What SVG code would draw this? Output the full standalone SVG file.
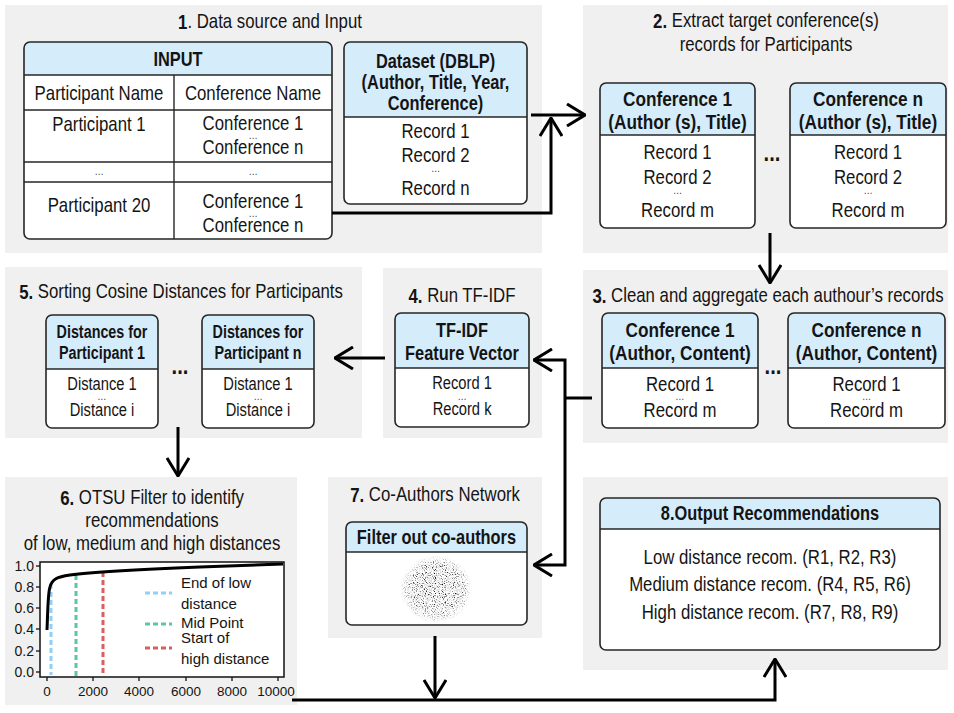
<svg xmlns="http://www.w3.org/2000/svg" width="954" height="713" viewBox="0 0 954 713">
<defs>
<style>
.panel{fill:#f0f0f0}
.body{fill:#fff}
.hd{fill:#d5ecfb}
.box{fill:none;stroke:#262626;stroke-width:1.6}
.sep{stroke:#262626;stroke-width:1.4}
text{font-family:'Liberation Sans Narrow','Liberation Sans',Arial,sans-serif;fill:#141414;text-anchor:middle;dominant-baseline:central;transform-box:fill-box;transform-origin:center;transform:scaleX(.84)}
.r{font-size:20px}
.b{font-size:20px;font-weight:bold;transform:scaleX(.82)}
.bl{font-size:21px;font-weight:bold;transform:scaleX(.82)}
.sm{font-size:17.5px}
.smb{font-size:17.5px;font-weight:bold;transform:scaleX(.82)}
.el{font-size:11px;fill:#333}
.gap{font-size:24px;font-weight:bold}
.ax{font-family:'Liberation Sans',Arial,sans-serif;font-size:13.5px;transform:none}
.axe{font-family:'Liberation Sans',Arial,sans-serif;font-size:14px;transform:none;text-anchor:end}
.lg{font-family:'Liberation Sans',Arial,sans-serif;font-size:15px;text-anchor:start;transform:none}
.wire{fill:none;stroke:#000;stroke-width:3}
.dash{fill:none;stroke-width:3;stroke-dasharray:5 3}
</style>
<marker id="arr" viewBox="0 0 20 24" refX="19" refY="12" markerWidth="20" markerHeight="24" markerUnits="userSpaceOnUse" orient="auto-start-reverse">
<path d="M1,1 L19,12 L1,23" fill="none" stroke="#000" stroke-width="3"/>
</marker>
<radialGradient id="cloud">
<stop offset="0" stop-color="#111" stop-opacity="1"/>
<stop offset="0.7" stop-color="#111" stop-opacity="0.9"/>
<stop offset="1" stop-color="#111" stop-opacity="0"/>
</radialGradient>
<filter id="speckle" x="-10%" y="-10%" width="120%" height="120%">
<feTurbulence type="fractalNoise" baseFrequency="0.9" numOctaves="1" seed="7" result="n"/>
<feColorMatrix in="n" type="matrix" values="0 0 0 0 0  0 0 0 0 0  0 0 0 0 0  1 0 0 0 0" result="a"/>
<feComponentTransfer in="a" result="t"><feFuncA type="discrete" tableValues="0 0 0 0 0 0.12 0.45 0.85 1 1"/></feComponentTransfer>
<feComposite in="t" in2="SourceAlpha" operator="in"/>
</filter>
</defs>

<!-- section backgrounds -->
<g id="panels">
<rect class="panel" x="5" y="5" width="537" height="248"/>
<rect class="panel" x="583" y="5" width="365" height="248"/>
<rect class="panel" x="583" y="270" width="365" height="173"/>
<rect class="panel" x="383" y="268" width="159" height="170"/>
<rect class="panel" x="5" y="267" width="357" height="171"/>
<rect class="panel" x="5" y="477" width="292" height="228"/>
<rect class="panel" x="328" y="477" width="214" height="161"/>
<rect class="panel" x="583" y="477" width="365" height="193"/>
</g>

<g id="titles">
<text class="r" x="270" y="21"><tspan font-weight="bold">1</tspan>. Data source and Input</text>
<text class="r" x="766" y="20"><tspan font-weight="bold">2.</tspan> Extract target conference(s)</text>
<text class="r" x="766" y="44">records for Participants</text>
<text class="r" x="768" y="295"><tspan font-weight="bold">3.</tspan> Clean and aggregate each authour’s records</text>
<text class="r" x="462" y="295"><tspan font-weight="bold">4.</tspan> Run TF-IDF</text>
<text class="r" x="181" y="291"><tspan font-weight="bold">5.</tspan> Sorting Cosine Distances for Participants</text>
<text class="r" x="152" y="497"><tspan font-weight="bold">6.</tspan> OTSU Filter to identify</text>
<text class="r" x="152" y="520">recommendations</text>
<text class="r" x="152" y="543">of low, medium and high distances</text>
<text class="r" x="435" y="494"><tspan font-weight="bold">7.</tspan> Co-Authors Network</text>
</g>

<!-- input table -->
<g id="input-table">
<rect class="body" x="24" y="42" width="308" height="197" rx="6"/>
<path class="hd" d="M24,75 V48 Q24,42 30,42 H326 Q332,42 332,48 V75 Z"/>
<line class="sep" x1="24" y1="75" x2="332" y2="75"/>
<line class="sep" x1="24" y1="110" x2="332" y2="110"/>
<line class="sep" x1="24" y1="162" x2="332" y2="162"/>
<line class="sep" x1="24" y1="182" x2="332" y2="182"/>
<line class="sep" x1="174" y1="75" x2="174" y2="239"/>
<rect class="box" x="24" y="42" width="308" height="197" rx="6"/>
<text class="b" x="178" y="59">INPUT</text>
<text class="r" x="99" y="93">Participant Name</text>
<text class="r" x="253" y="93">Conference Name</text>
<text class="r" x="99" y="124">Participant 1</text>
<text class="r" x="253" y="123">Conference 1</text>
<text class="el" x="253" y="135">…</text>
<text class="r" x="253" y="147">Conference n</text>
<text class="el" x="99" y="171">…</text>
<text class="el" x="253" y="171">…</text>
<text class="r" x="99" y="205">Participant 20</text>
<text class="r" x="253" y="201">Conference 1</text>
<text class="el" x="253" y="213">…</text>
<text class="r" x="253" y="225">Conference n</text>
</g>

<g id="dataset">
<rect class="body" x="344" y="42" width="183" height="162" rx="6"/>
<path class="hd" d="M344,117 V48 Q344,42 350,42 H521 Q527,42 527,48 V117 Z"/>
<line class="sep" x1="344" y1="117" x2="527" y2="117"/>
<rect class="box" x="344" y="42" width="183" height="162" rx="6"/>
<text class="b" x="435.5" y="61">Dataset (DBLP)</text>
<text class="b" x="435.5" y="82">(Author, Title, Year,</text>
<text class="b" x="435.5" y="103">Conference)</text>
<text class="r" x="435.5" y="131">Record 1</text>
<text class="r" x="435.5" y="155">Record 2</text>
<text class="el" x="435.5" y="168">…</text>
<text class="r" x="435.5" y="188">Record n</text>
</g>

<g id="extract-conf-1">
<rect class="body" x="600" y="83" width="155" height="145" rx="6"/>
<path class="hd" d="M600,135 V89 Q600,83 606,83 H749 Q755,83 755,89 V135 Z"/>
<line class="sep" x1="600" y1="135" x2="755" y2="135"/>
<rect class="box" x="600" y="83" width="155" height="145" rx="6"/>
<text class="bl" x="677.5" y="99">Conference 1</text>
<text class="bl" x="677.5" y="122">(Author (s), Title)</text>
<text class="r" x="677.5" y="152">Record 1</text>
<text class="r" x="677.5" y="177">Record 2</text>
<text class="el" x="677.5" y="190">…</text>
<text class="r" x="677.5" y="210">Record m</text>
</g>
<text class="gap" x="772" y="153">...</text>
<g id="extract-conf-n">
<rect class="body" x="790" y="83" width="156" height="145" rx="6"/>
<path class="hd" d="M790,135 V89 Q790,83 796,83 H940 Q946,83 946,89 V135 Z"/>
<line class="sep" x1="790" y1="135" x2="946" y2="135"/>
<rect class="box" x="790" y="83" width="156" height="145" rx="6"/>
<text class="bl" x="868" y="99">Conference n</text>
<text class="bl" x="868" y="122">(Author (s), Title)</text>
<text class="r" x="868" y="152">Record 1</text>
<text class="r" x="868" y="177">Record 2</text>
<text class="el" x="868" y="190">…</text>
<text class="r" x="868" y="210">Record m</text>
</g>

<g id="clean-conf-1">
<rect class="body" x="602" y="313" width="156" height="115" rx="6"/>
<path class="hd" d="M602,368 V319 Q602,313 608,313 H752 Q758,313 758,319 V368 Z"/>
<line class="sep" x1="602" y1="368" x2="758" y2="368"/>
<rect class="box" x="602" y="313" width="156" height="115" rx="6"/>
<text class="bl" x="680" y="330">Conference 1</text>
<text class="bl" x="680" y="353">(Author, Content)</text>
<text class="r" x="680" y="384">Record 1</text>
<text class="el" x="680" y="396">…</text>
<text class="r" x="680" y="410">Record m</text>
</g>
<text class="gap" x="773" y="366">...</text>
<g id="clean-conf-n">
<rect class="body" x="788" y="313" width="157" height="115" rx="6"/>
<path class="hd" d="M788,368 V319 Q788,313 794,313 H939 Q945,313 945,319 V368 Z"/>
<line class="sep" x1="788" y1="368" x2="945" y2="368"/>
<rect class="box" x="788" y="313" width="157" height="115" rx="6"/>
<text class="bl" x="866.5" y="330">Conference n</text>
<text class="bl" x="866.5" y="353">(Author, Content)</text>
<text class="r" x="866.5" y="384">Record 1</text>
<text class="el" x="866.5" y="396">…</text>
<text class="r" x="866.5" y="410">Record m</text>
</g>

<g id="tfidf">
<rect class="body" x="395" y="313" width="134" height="114" rx="6"/>
<path class="hd" d="M395,368 V319 Q395,313 401,313 H523 Q529,313 529,319 V368 Z"/>
<line class="sep" x1="395" y1="368" x2="529" y2="368"/>
<rect class="box" x="395" y="313" width="134" height="114" rx="6"/>
<text class="b" x="462" y="330">TF-IDF</text>
<text class="b" x="462" y="353">Feature Vector</text>
<text class="sm" x="462" y="383">Record 1</text>
<text class="el" x="462" y="396">…</text>
<text class="sm" x="462" y="409">Record k</text>
</g>

<g id="distances-1">
<rect class="body" x="46" y="315" width="112" height="113" rx="6"/>
<path class="hd" d="M46,369 V321 Q46,315 52,315 H152 Q158,315 158,321 V369 Z"/>
<line class="sep" x1="46" y1="369" x2="158" y2="369"/>
<rect class="box" x="46" y="315" width="112" height="113" rx="6"/>
<text class="smb" x="102" y="332">Distances for</text>
<text class="smb" x="102" y="353">Participant 1</text>
<text class="sm" x="102" y="384">Distance 1</text>
<text class="el" x="102" y="396">…</text>
<text class="sm" x="102" y="410">Distance i</text>
</g>
<text class="gap" x="180" y="366">...</text>
<g id="distances-n">
<rect class="body" x="202" y="315" width="112" height="113" rx="6"/>
<path class="hd" d="M202,369 V321 Q202,315 208,315 H308 Q314,315 314,321 V369 Z"/>
<line class="sep" x1="202" y1="369" x2="314" y2="369"/>
<rect class="box" x="202" y="315" width="112" height="113" rx="6"/>
<text class="smb" x="258" y="332">Distances for</text>
<text class="smb" x="258" y="353">Participant n</text>
<text class="sm" x="258" y="384">Distance 1</text>
<text class="el" x="258" y="396">…</text>
<text class="sm" x="258" y="410">Distance i</text>
</g>

<!-- OTSU chart -->
<g id="otsu-chart">
<rect x="40" y="562" width="244" height="115" fill="#fff" stroke="#111" stroke-width="1.5"/>
<g stroke="#111" stroke-width="1.3">
<line x1="36" y1="566" x2="40" y2="566"/><line x1="36" y1="587" x2="40" y2="587"/>
<line x1="36" y1="608" x2="40" y2="608"/><line x1="36" y1="629" x2="40" y2="629"/>
<line x1="36" y1="651" x2="40" y2="651"/><line x1="36" y1="672" x2="40" y2="672"/>
<line x1="47" y1="677" x2="47" y2="681"/><line x1="93" y1="677" x2="93" y2="681"/>
<line x1="139" y1="677" x2="139" y2="681"/><line x1="186" y1="677" x2="186" y2="681"/>
<line x1="232" y1="677" x2="232" y2="681"/><line x1="278" y1="677" x2="278" y2="681"/>
</g>
<text class="axe" x="34" y="566">1.0</text>
<text class="axe" x="34" y="587">0.8</text>
<text class="axe" x="34" y="608">0.6</text>
<text class="axe" x="34" y="629">0.4</text>
<text class="axe" x="34" y="651">0.2</text>
<text class="axe" x="34" y="672">0.0</text>
<text class="ax" x="47" y="691">0</text>
<text class="ax" x="93" y="691">2000</text>
<text class="ax" x="139" y="691">4000</text>
<text class="ax" x="186" y="691">6000</text>
<text class="ax" x="232" y="691">8000</text>
<text class="ax" x="276" y="691">10000</text>
<line class="dash" x1="51" y1="584" x2="51" y2="675" stroke="#8fd0f7"/>
<line class="dash" x1="76" y1="575" x2="76" y2="677" stroke="#5fc6a2"/>
<line class="dash" x1="103" y1="572" x2="103" y2="675" stroke="#d65f5f"/>
<path d="M47,630 C48,605 48,592 50,587 C52,579 57,577 70,575 C100,571 150,569 200,567 L283,564" fill="none" stroke="#000" stroke-width="3"/>
<line class="dash" x1="145" y1="593" x2="172" y2="593" stroke="#8fd0f7"/>
<line class="dash" x1="145" y1="624" x2="172" y2="624" stroke="#5fc6a2"/>
<line class="dash" x1="145" y1="648" x2="172" y2="648" stroke="#d65f5f"/>
<text class="lg" x="181" y="582">End of low</text>
<text class="lg" x="181" y="603">distance</text>
<text class="lg" x="181" y="622">Mid Point</text>
<text class="lg" x="181" y="637">Start of</text>
<text class="lg" x="181" y="658">high distance</text>
</g>

<g id="coauthors">
<rect class="body" x="346" y="522" width="181" height="103" rx="6"/>
<path class="hd" d="M346,552 V528 Q346,522 352,522 H521 Q527,522 527,528 V552 Z"/>
<line class="sep" x1="346" y1="552" x2="527" y2="552"/>
<rect class="box" x="346" y="522" width="181" height="103" rx="6"/>
<text class="b" x="436.5" y="537">Filter out co-authors</text>
<ellipse cx="436" cy="589" rx="36" ry="34" fill="url(#cloud)" filter="url(#speckle)"/>
</g>

<g id="output">
<rect class="body" x="600" y="498" width="340" height="152" rx="6"/>
<path class="hd" d="M600,529 V504 Q600,498 606,498 H934 Q940,498 940,504 V529 Z"/>
<line class="sep" x1="600" y1="529" x2="940" y2="529"/>
<rect class="box" x="600" y="498" width="340" height="152" rx="6"/>
<text class="b" x="770" y="513">8.Output Recommendations</text>
<text class="r" x="770" y="557">Low distance recom. (R1, R2, R3)</text>
<text class="r" x="770" y="584">Medium distance recom. (R4, R5, R6)</text>
<text class="r" x="770" y="612">High distance recom. (R7, R8, R9)</text>
</g>

<!-- connectors -->
<g id="connectors">
<path class="wire" d="M332,213 H551 V118" marker-end="url(#arr)"/>
<path class="wire" d="M531,115 H585" marker-end="url(#arr)"/>
<path class="wire" d="M770,233 V283" marker-end="url(#arr)"/>
<path class="wire" d="M592,398 H565"/>
<path class="wire" d="M534,360 H565 V565 H534" marker-start="url(#arr)" marker-end="url(#arr)"/>
<path class="wire" d="M385,358 H335" marker-end="url(#arr)"/>
<path class="wire" d="M178,427 V476" marker-end="url(#arr)"/>
<path class="wire" d="M435,636 V698" marker-end="url(#arr)"/>
<path class="wire" d="M292,700 H775 V659" marker-end="url(#arr)"/>
</g>
</svg>
